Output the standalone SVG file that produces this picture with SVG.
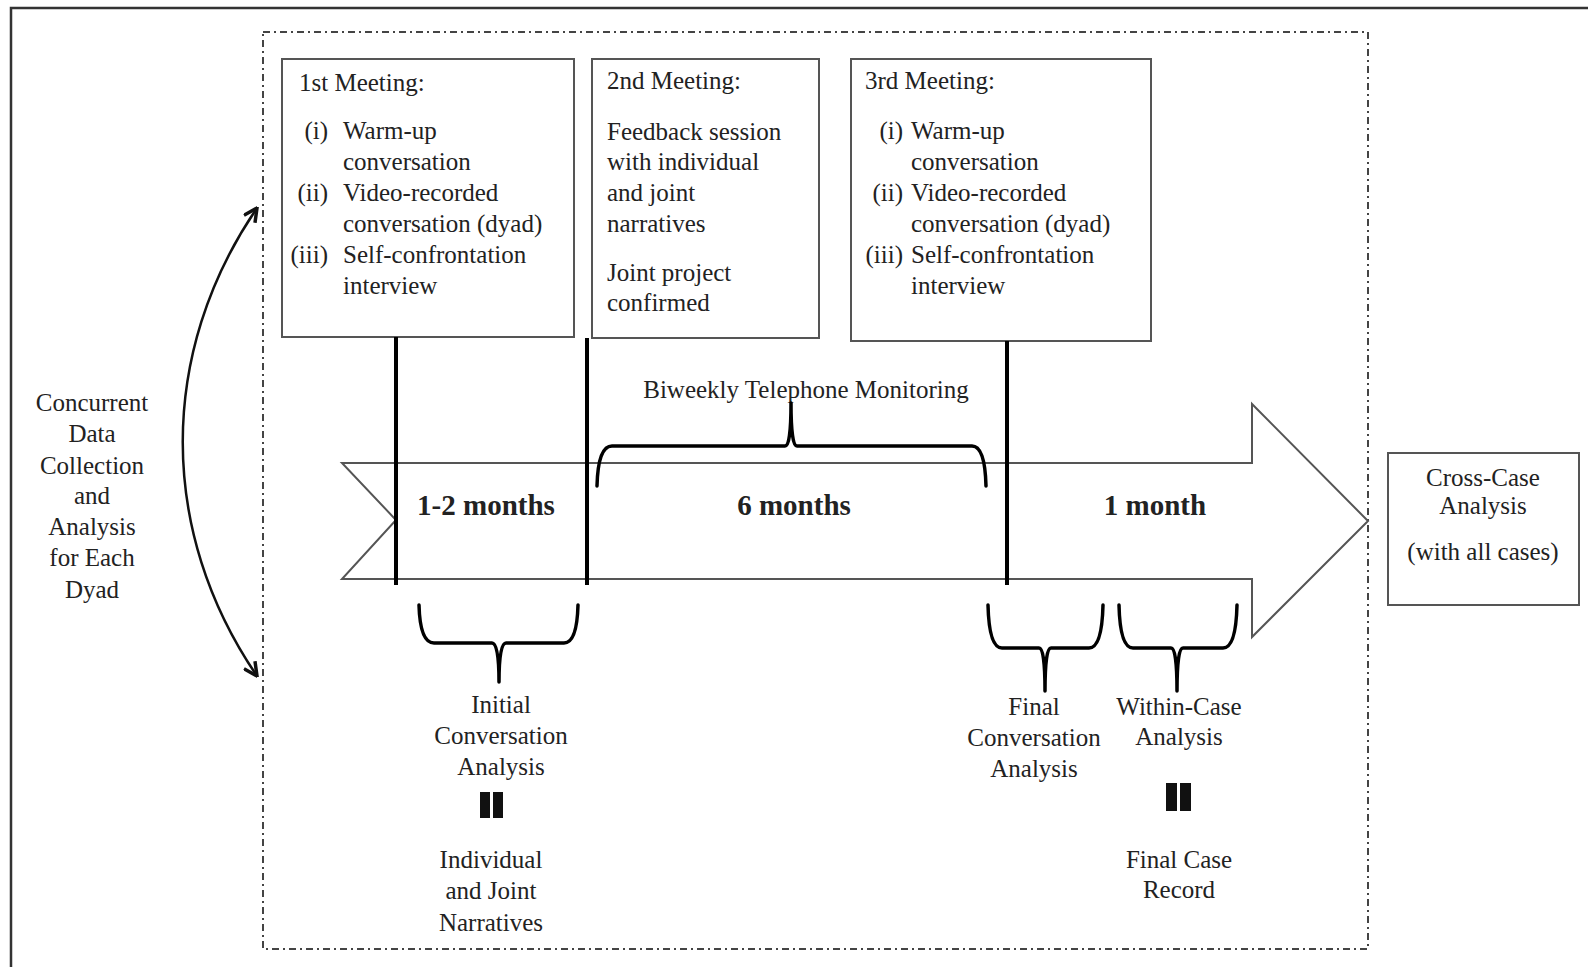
<svg xmlns="http://www.w3.org/2000/svg" width="1588" height="967" viewBox="0 0 1588 967">
<style>
  text { font-family: "Liberation Serif", "Times New Roman", serif; fill: #222; font-size: 25px; }
  .c { text-anchor: middle; }
  .e { text-anchor: end; }
  .bold { font-weight: bold; font-size: 29px; }
  .box { fill: #fff; stroke: #555; stroke-width: 2; }
  .tick { stroke: #000; stroke-width: 4; fill: none; }
  .brace { stroke: #000; stroke-width: 3.5; fill: none; stroke-linejoin: round; stroke-linecap: round; }
</style>
<defs>
  <marker id="ah" viewBox="0 0 12 12" refX="11" refY="6" markerWidth="16" markerHeight="16" markerUnits="userSpaceOnUse" orient="auto-start-reverse">
    <path d="M1,1 L11,6 L1,11" fill="none" stroke="#111" stroke-width="2.6"/>
  </marker>
</defs>
<rect width="1588" height="967" fill="#fff"/>
<g id="frame">
  <path d="M11,967 L11,8 L1588,8" fill="none" stroke="#333" stroke-width="2.5"/>
</g>
<g id="dyad-boundary">
  <rect x="263" y="32" width="1105" height="917" fill="none" stroke="#444" stroke-width="2" stroke-dasharray="7 4 2 4"/>
</g>
<g id="timeline-arrow">
  <polygon points="342,463 1252,463 1252,404 1368,521 1252,637 1252,579 342,579 396,520" fill="#fff" stroke="#555" stroke-width="2"/>
  <text class="bold c" x="486" y="515">1-2 months</text>
  <text class="bold c" x="794" y="515">6 months</text>
  <text class="bold c" x="1155" y="515">1 month</text>
</g>
<g id="meeting1">
  <rect class="box" x="282" y="59" width="292" height="278"/>
  <text x="299" y="91">1st Meeting:</text>
  <text class="e" x="328" y="139">(i)</text>
  <text x="343" y="139">Warm-up</text>
  <text x="343" y="170">conversation</text>
  <text class="e" x="328" y="201">(ii)</text>
  <text x="343" y="201">Video-recorded</text>
  <text x="343" y="232">conversation (dyad)</text>
  <text class="e" x="328" y="263">(iii)</text>
  <text x="343" y="263">Self-confrontation</text>
  <text x="343" y="294">interview</text>
</g>
<g id="meeting2">
  <rect class="box" x="592" y="59" width="227" height="279"/>
  <text x="607" y="89">2nd Meeting:</text>
  <text x="607" y="140">Feedback session</text>
  <text x="607" y="170">with individual</text>
  <text x="607" y="201">and joint</text>
  <text x="607" y="232">narratives</text>
  <text x="607" y="281">Joint project</text>
  <text x="607" y="311">confirmed</text>
</g>
<g id="meeting3">
  <rect class="box" x="851" y="59" width="300" height="282"/>
  <text x="865" y="89">3rd Meeting:</text>
  <text class="e" x="903" y="139">(i)</text>
  <text x="911" y="139">Warm-up</text>
  <text x="911" y="170">conversation</text>
  <text class="e" x="903" y="201">(ii)</text>
  <text x="911" y="201">Video-recorded</text>
  <text x="911" y="232">conversation (dyad)</text>
  <text class="e" x="903" y="263">(iii)</text>
  <text x="911" y="263">Self-confrontation</text>
  <text x="911" y="294">interview</text>
</g>
<g id="cross-case">
  <rect class="box" x="1388" y="453" width="191" height="152"/>
  <text class="c" x="1483" y="486">Cross-Case</text>
  <text class="c" x="1483" y="514">Analysis</text>
  <text class="c" x="1483" y="560">(with all cases)</text>
</g>
<g id="concurrent-label">
  <text class="c" x="92" y="411">Concurrent</text>
  <text class="c" x="92" y="442">Data</text>
  <text class="c" x="92" y="474">Collection</text>
  <text class="c" x="92" y="504">and</text>
  <text class="c" x="92" y="535">Analysis</text>
  <text class="c" x="92" y="566">for Each</text>
  <text class="c" x="92" y="598">Dyad</text>
</g>
<g id="monitoring">
  <text class="c" x="806" y="398">Biweekly Telephone Monitoring</text>
</g>
<g id="initial-analysis">
  <text class="c" x="501" y="713">Initial</text>
  <text class="c" x="501" y="744">Conversation</text>
  <text class="c" x="501" y="775">Analysis</text>
  <rect x="480" y="792" width="10" height="26" fill="#111"/>
  <rect x="493" y="792" width="10" height="26" fill="#111"/>
  <text class="c" x="491" y="868">Individual</text>
  <text class="c" x="491" y="899">and Joint</text>
  <text class="c" x="491" y="931">Narratives</text>
</g>
<g id="final-analysis">
  <text class="c" x="1034" y="715">Final</text>
  <text class="c" x="1034" y="746">Conversation</text>
  <text class="c" x="1034" y="777">Analysis</text>
</g>
<g id="within-case">
  <text class="c" x="1179" y="715">Within-Case</text>
  <text class="c" x="1179" y="745">Analysis</text>
  <rect x="1166" y="783" width="11" height="28" fill="#111"/>
  <rect x="1180" y="783" width="11" height="28" fill="#111"/>
  <text class="c" x="1179" y="868">Final Case</text>
  <text class="c" x="1179" y="898">Record</text>
</g>
<g id="connectors">
  <line class="tick" x1="396" y1="337" x2="396" y2="585"/>
  <line class="tick" x1="587" y1="338" x2="587" y2="585"/>
  <line class="tick" x1="1007" y1="341" x2="1007" y2="585"/>
  <path class="brace" d="M597,486 Q598,446 612,446 L785,446 Q791,446 791,403 Q791,446 797,446 L972,446 Q985,446 986,486"/>
  <path class="brace" d="M419,605 Q420,643 434,643 L492,643 Q499,643 499,682 Q499,643 506,643 L564,643 Q577,643 578,605"/>
  <path class="brace" d="M988,605 Q989,648 1002,648 L1039,648 Q1045,648 1045,691 Q1045,648 1051,648 L1089,648 Q1102,648 1103,605"/>
  <path class="brace" d="M1119,605 Q1120,648 1133,648 L1171,648 Q1177,648 1177,691 Q1177,648 1183,648 L1223,648 Q1236,648 1237,605"/>
  <path d="M257,208 C158,353 158,531 257,676" fill="none" stroke="#111" stroke-width="2.5" marker-start="url(#ah)" marker-end="url(#ah)"/>
</g>
</svg>
